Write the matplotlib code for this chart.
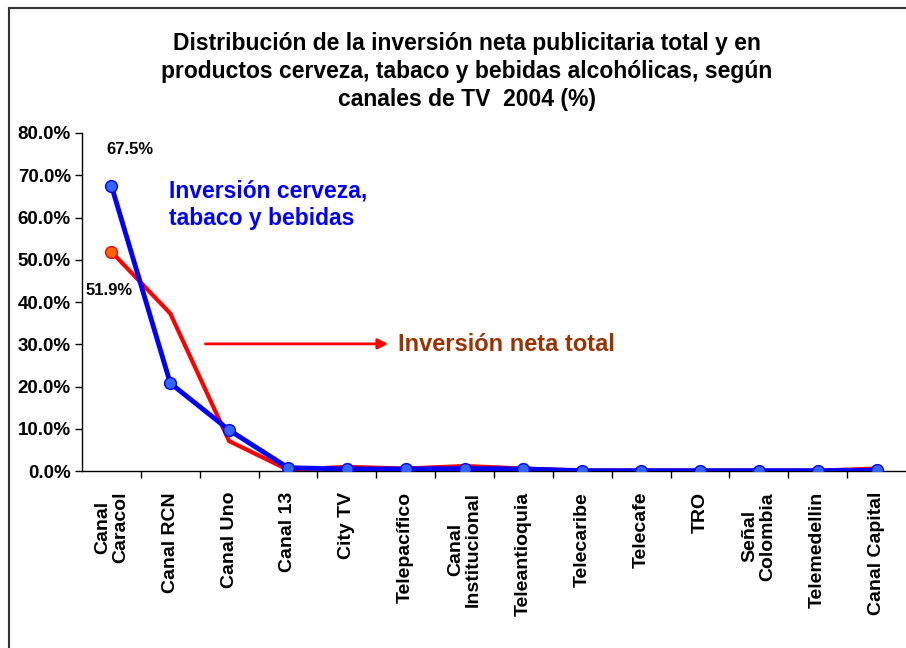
import numpy as np
import matplotlib
matplotlib.use("Agg")
import matplotlib.pyplot as plt
from matplotlib.lines import Line2D

plt.rcParams['font.family'] = ['Liberation Sans', 'DejaVu Sans']
plt.rcParams['font.weight'] = 'bold'

# Data (% of investment by TV channel, 2004)
canales = ['Canal\nCaracol', 'Canal RCN', 'Canal Uno', 'Canal 13', 'City TV',
           'Telepacífico', 'Canal\nInstitucional', 'Teleantioquia', 'Telecaribe',
           'Telecafe', 'TRO', 'Señal\nColombia', 'Telemedellin', 'Canal Capital']
neta_total = [51.9, 37.3, 7.1, 0.3, 1.0, 0.6, 1.2, 0.6, 0.1, 0.1, 0.1, 0.1, 0.1, 0.6]
cerveza_tabaco = [67.5, 20.8, 9.7, 0.8, 0.5, 0.5, 0.6, 0.5, 0.1, 0.1, 0.1, 0.1, 0.1, 0.2]

fig = plt.figure(figsize=(9.06, 6.48), dpi=100)
ax = fig.add_axes([0.0905, 0.273, 0.9095, 0.5218])

x = np.arange(len(canales))
ax.plot(x, neta_total, color='#FF0000', lw=3, zorder=2)
ax.plot(x[:1], neta_total[:1], 'o', ms=8.5, mfc='#FF6600', mec='#FF0000', mew=1, zorder=3)
ax.plot(x, cerveza_tabaco, color='#0000FF', lw=3.5, marker='o', ms=8.5,
        mfc='#3366FF', mec='#0000FF', mew=1, zorder=4)

ax.set_xlim(-0.5, len(canales) - 0.5)
ax.set_ylim(0, 80)
ax.set_yticks(np.arange(0, 81, 10))
ax.set_yticklabels([f'{v:.1f}%' for v in np.arange(0, 81, 10)], fontsize=13.5, fontweight='bold')
ax.set_xticks(x)
ax.set_xticklabels(canales, rotation=90, fontsize=14, fontweight='bold',
                   ha='center', va='top', multialignment='center', linespacing=1.1)
ax.set_xticks(np.arange(0.5, len(canales) - 0.5, 1), minor=True)
ax.tick_params(axis='x', which='major', length=0, pad=15)
ax.tick_params(axis='x', which='minor', length=5, direction='out', width=1)
ax.tick_params(axis='y', length=5, direction='out', width=1, pad=3)
for s in ['top', 'right']:
    ax.spines[s].set_visible(False)
for s in ['left', 'bottom']:
    ax.spines[s].set_linewidth(1)

ax.annotate('67.5%', (0, cerveza_tabaco[0]), xytext=(13, 26), textcoords='offset points',
            ha='center', va='center', fontsize=12, fontweight='bold')
ax.annotate('51.9%', (0, neta_total[0]), xytext=(-2, -28), textcoords='offset points',
            ha='center', va='center', fontsize=12, fontweight='bold')

ax.text(0.97, 63.0, 'Inversión cerveza,\ntabaco y bebidas', color='#0000FF',
        fontsize=16.5, fontweight='bold', ha='left', va='center', linespacing=1.25)
ax.annotate('', xy=(4.75, 30.1), xytext=(1.55, 30.1),
            arrowprops=dict(arrowstyle='-|>', color='#FF0000', lw=2, mutation_scale=15))
ax.text(4.87, 30.0, 'Inversión neta total', color='#993300', fontsize=17,
        fontweight='bold', ha='left', va='center')

fig.text(0.515, 0.889, 'Distribución de la inversión neta publicitaria total y en\n'
         'productos cerveza, tabaco y bebidas alcohólicas, según\n'
         'canales de TV  2004 (%)', ha='center', va='center', fontsize=16.5,
         fontweight='bold', linespacing=1.28)

# chart area frame
fig.add_artist(Line2D([9 / 906, 9 / 906], [0, 1 - 8 / 648], color='#333333', lw=1.5))
fig.add_artist(Line2D([9 / 906, 1], [1 - 8 / 648, 1 - 8 / 648], color='#333333', lw=1.5))

fig.savefig('out.png', dpi=100)
